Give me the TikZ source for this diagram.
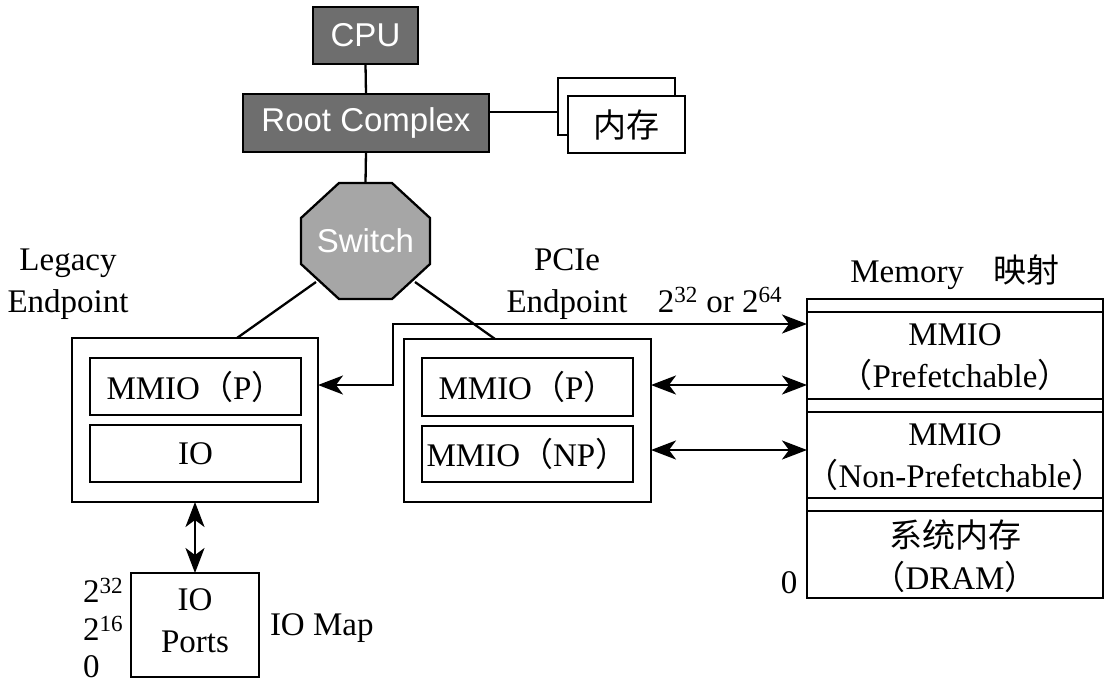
\documentclass[tikz,border=0pt]{standalone}
\usepackage{fontspec}
\setmainfont{Liberation Serif}
\setsansfont{Liberation Sans}
\newfontfamily\cjk{Noto Sans CJK SC}
\usetikzlibrary{arrows.meta,calc}
\newcommand{\LPar}{{\cjk （}}
\newcommand{\RPar}{{\cjk ）}}
\definecolor{darkfill}{HTML}{6E6E6E}
\definecolor{swfill}{HTML}{A6A6A6}
\begin{document}
\begin{tikzpicture}[x=1pt,y=-1pt,
  every node/.style={font=\fontsize{33}{42}\selectfont, inner sep=0pt, outer sep=0pt},
  plainbox/.style={draw, line width=2.5pt, fill=white, align=center},
  darkbox/.style={draw, line width=2.5pt, fill=darkfill, text=white, font=\sffamily\fontsize{33}{42}\selectfont},
  conn/.style={line width=2.3pt},
  biarrow/.style={line width=2.3pt, {Stealth[length=25pt,width=19pt,inset=7pt]}-{Stealth[length=25pt,width=19pt,inset=7pt]}},
  lbl/.style={align=center}]
\useasboundingbox (0,0) rectangle (1119,689);

% top part
\node[darkbox, minimum width=105pt, minimum height=57pt] (cpu) at (365.5,35.5) {CPU};
\node[darkbox, minimum width=246pt, minimum height=58pt] (rc) at (366,123) {Root Complex};
\draw[conn] (cpu.south) -- (rc.north);

\node[plainbox, minimum width=117pt, minimum height=57pt] (memb) at (616.5,106.5) {};
\node[plainbox, minimum width=117pt, minimum height=57pt] (memf) at (626.5,124.5) {\cjk 内存};
\draw[conn] ([yshift=11pt]rc.east) -- ([yshift=-5.5pt]memb.west);

% switch
\node[minimum width=129pt, minimum height=116pt] (sw) at (365.5,241) {};
\draw[conn] (rc.south) -- (sw.north);
\draw[conn, fill=swfill] ([xshift=38pt]sw.north west) -- ([xshift=-38pt]sw.north east)
  -- ([yshift=-35pt]sw.north east) -- ([yshift=35pt]sw.south east)
  -- ([xshift=-38pt]sw.south east) -- ([xshift=38pt]sw.south west)
  -- ([yshift=35pt]sw.south west) -- ([yshift=-35pt]sw.north west) -- cycle;
\node[text=white, font=\sffamily\fontsize{33}{42}\selectfont] (swtext) at (sw.center) {Switch};
\coordinate (swL) at (316,282);
\coordinate (swR) at (415,282);

% legacy endpoint
\node[lbl] (legl) at (68,284) {Legacy\\Endpoint};
\node[plainbox, minimum width=246pt, minimum height=164pt] (leg) at (195,420) {};
\node[plainbox, minimum width=211pt, minimum height=57pt] (legm) at (195.5,386.5) {MMIO\LPar P\RPar};
\node[plainbox, minimum width=211pt, minimum height=57pt] (legio) at (195.5,453.5) {IO};
\draw[conn] (swL) -- ([xshift=42pt]leg.north);

% pcie endpoint
\node[lbl] (pcil) at (567,284) {PCIe\\Endpoint};
\node[plainbox, minimum width=247pt, minimum height=163pt] (pcie) at (527.5,420.5) {};
\node[plainbox, minimum width=211pt, minimum height=58pt] (pcm) at (527.5,387) {MMIO\LPar P\RPar};
\node[plainbox, minimum width=211pt, minimum height=56pt] (pcnp) at (527.5,454) {MMIO\LPar NP\RPar};
\draw[conn] (swR) -- ([xshift=-32.5pt]pcie.north);
\node[anchor=base] (bits) at (720,312) {2\textsuperscript{32} or 2\textsuperscript{64}};

% memory map
\node[anchor=base] (mmt) at (955,282) {Memory\hspace{0.9em}{\cjk 映射}};
\node[plainbox, minimum width=296pt, minimum height=299pt] (mm) at (955,448.5) {};
\foreach \s in {13,100,113,199,212}
  \draw[conn] ([yshift=-\s pt]mm.north west) -- ([yshift=-\s pt]mm.north east);
\node[lbl] (mmp) at (955,357) {MMIO\\\LPar Prefetchable\RPar};
\node[lbl] (mmnp) at (955,457) {MMIO\\\LPar Non-Prefetchable\RPar};
\node[lbl] (mmd) at (955,556) {{\cjk 系统内存}\\\LPar DRAM\RPar};
\node (mz) at (789,583) {0};

% arrows
\draw[biarrow] ([yshift=35pt]leg.east) -- ++(75,0) |- ([yshift=124.5pt]mm.west);
\draw[biarrow] ([yshift=35.5pt]pcie.east) -- ([yshift=35.5pt]pcie.east -| mm.west);
\draw[biarrow] ([yshift=-29.5pt]pcie.east) -- ([yshift=-29.5pt]pcie.east -| mm.west);

% io map
\node[plainbox, minimum width=128pt, minimum height=104pt] (iop) at (195,625) {};
\node[lbl] (ioptext) at (195,621) {IO\\Ports};
\draw[biarrow] (leg.south) -- (iop.north);
\node[anchor=west] (e32) at (83,590) {2\textsuperscript{32}};
\node[anchor=west] (e16) at (83,628) {2\textsuperscript{16}};
\node[anchor=west] (e0) at (83,667) {0};
\node[anchor=west] (iom) at (270,628) {IO Map};
\end{tikzpicture}
\end{document}
